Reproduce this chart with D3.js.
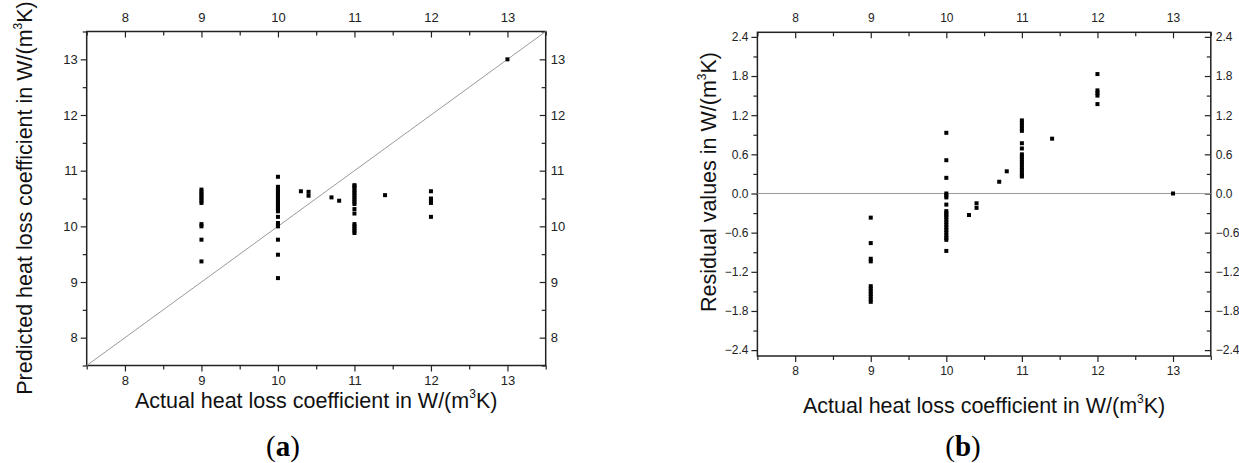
<!DOCTYPE html>
<html>
<head>
<meta charset="utf-8">
<script src="https://cdn.jsdelivr.net/npm/d3@7"></script>
<style>
  html, body { margin: 0; padding: 0; background: #fff; }
  svg { display: block; font-family: "Liberation Sans", Arial, sans-serif; }
</style>
</head>
<body>
<div id="canvas"></div>
<script>
// values
const actualHeatLoss = [
  9, 9, 9, 9, 9, 9, 9, 9, 9, 9, 9,
  10, 10, 10, 10, 10, 10, 10, 10, 10, 10, 10, 10, 10, 10, 10, 10, 10, 10, 10, 10, 10,
  10.3, 10.4, 10.4, 10.7, 10.8,
  11, 11, 11, 11, 11, 11, 11, 11, 11, 11, 11, 11, 11, 11, 11, 11, 11,
  11.4,
  12, 12, 12, 12, 12,
  13
];
const predictedHeatLoss = [
  9.37, 9.76, 10.00, 10.04, 10.42, 10.46, 10.50, 10.54, 10.58, 10.62, 10.66,
  9.07, 9.49, 9.76, 10.00, 10.03, 10.06, 10.17, 10.27, 10.30, 10.33, 10.36, 10.40, 10.44, 10.48, 10.52, 10.56, 10.60, 10.64, 10.68, 10.71, 10.89,
  10.63, 10.55, 10.62, 10.52, 10.46,
  9.88, 9.92, 9.96, 10.00, 10.04, 10.23, 10.31, 10.40, 10.44, 10.48, 10.52, 10.56, 10.60, 10.64, 10.68, 10.72, 10.74,
  10.56,
  10.17, 10.42, 10.46, 10.50, 10.63,
  13.00
];
const residualValues = [
  -0.37, -0.76, -1.00, -1.04, -1.42, -1.46, -1.50, -1.54, -1.58, -1.62, -1.66,
  0.93, 0.51, 0.24, 0.00, -0.03, -0.06, -0.17, -0.27, -0.30, -0.33, -0.36, -0.40, -0.44, -0.48, -0.52, -0.56, -0.60, -0.64, -0.68, -0.71, -0.88,
  -0.33, -0.15, -0.22, 0.18, 0.34,
  1.12, 1.08, 1.04, 1.00, 0.96, 0.77, 0.69, 0.60, 0.56, 0.52, 0.48, 0.44, 0.40, 0.36, 0.32, 0.28, 0.26,
  0.84,
  1.83, 1.58, 1.54, 1.50, 1.37,
  0.00
];

const xTicks = [8, 9, 10, 11, 12, 13];
const xMinorTicks = [7.5, 8.5, 9.5, 10.5, 11.5, 12.5, 13.5];
const predTicks = [8, 9, 10, 11, 12, 13];
const predMinorTicks = [7.5, 8.5, 9.5, 10.5, 11.5, 12.5, 13.5];
const resTicks = [-2.4, -1.8, -1.2, -0.6, 0.0, 0.6, 1.2, 1.8, 2.4];
const resMinorTicks = [-2.1, -1.5, -0.9, -0.3, 0.3, 0.9, 1.5, 2.1];

const W = 1239, H = 463;
const svg = d3.select('#canvas').append('svg')
  .attr('width', W).attr('height', H)
  .style('background', '#fff');

function drawPanel(opt) {
  const x = opt.x, y = opt.y;
  const [x0, x1] = x.range();
  const [y0, y1] = y.range();
  const g = svg.append('g');

  // axes: bottom/left ticks outward, top/right ticks inward
  const addAxis = (axis, tr, fs) => {
    const a = g.append('g').attr('transform', tr).call(axis);
    a.select('.domain').remove();
    a.selectAll('line').attr('stroke', '#222').attr('stroke-width', 1.2);
    a.selectAll('text').attr('fill', '#222').style('font-size', fs + 'px')
      .style('font-family', '"Liberation Sans", Arial, sans-serif');
    return a;
  };
  const fmtY = opt.fmtY;
  addAxis(d3.axisBottom(x).tickValues(xTicks).tickSize(6).tickPadding(4).tickFormat(d3.format('d')), `translate(0,${y0})`, opt.fs);
  addAxis(d3.axisBottom(x).tickValues(xMinorTicks).tickSize(4).tickFormat(''), `translate(0,${y0})`, opt.fs);
  addAxis(d3.axisTop(x).tickValues(xTicks).tickSize(-6).tickPadding(10).tickFormat(d3.format('d')), `translate(0,${y1})`, opt.fs);
  addAxis(d3.axisTop(x).tickValues(xMinorTicks).tickSize(-4).tickFormat(''), `translate(0,${y1})`, opt.fs);
  addAxis(d3.axisLeft(y).tickValues(opt.yTicks).tickSize(6).tickPadding(3).tickFormat(fmtY), `translate(${x0},0)`, opt.fs);
  addAxis(d3.axisLeft(y).tickValues(opt.yMinor).tickSize(4).tickFormat(''), `translate(${x0},0)`, opt.fs);
  addAxis(d3.axisRight(y).tickValues(opt.yTicks).tickSize(-6).tickPadding(5).tickFormat(fmtY), `translate(${x1},0)`, opt.fs);
  addAxis(d3.axisRight(y).tickValues(opt.yMinor).tickSize(-4).tickFormat(''), `translate(${x1},0)`, opt.fs);

  // frame
  g.append('rect')
    .attr('x', x0).attr('y', y1)
    .attr('width', x1 - x0).attr('height', y0 - y1)
    .attr('fill', 'none').attr('stroke', '#222').attr('stroke-width', 1.5);

  // reference line
  g.append('line')
    .attr('x1', x(opt.ref[0][0])).attr('y1', y(opt.ref[0][1]))
    .attr('x2', x(opt.ref[1][0])).attr('y2', y(opt.ref[1][1]))
    .attr('stroke', '#9a9a9a').attr('stroke-width', 1);

  // points
  const s = 4;
  g.selectAll('.pt')
    .data(opt.xs.map((d, i) => [d, opt.ys[i]]))
    .join('rect')
    .attr('class', 'pt')
    .attr('x', d => x(d[0]) - s / 2)
    .attr('y', d => y(d[1]) - s / 2)
    .attr('width', s).attr('height', s)
    .attr('fill', '#000');

  // x title
  const xt = g.append('text')
    .attr('x', (x0 + x1) / 2).attr('y', opt.xTitleY)
    .attr('text-anchor', 'middle')
    .attr('dy', '0.35em')
    .style('font-size', '21.5px').attr('fill', '#111');
  supText(xt, 'Actual heat loss coefficient in W/(m', '3', 'K)');

  // y title
  const yt = g.append('text')
    .attr('transform', `translate(${opt.yTitleX},${opt.yTitleY}) rotate(-90)`)
    .attr('text-anchor', 'middle')
    .attr('dy', '0.35em')
    .style('font-size', '21.5px').attr('fill', '#111');
  supText(yt, opt.yTitle, '3', 'K)');

  // panel letter
  const lt = g.append('text')
    .attr('x', opt.letterX).attr('y', 456)
    .attr('text-anchor', 'middle')
    .style('font-family', '"Liberation Serif", "Times New Roman", serif')
    .style('font-size', '29px').attr('fill', '#000');
  lt.append('tspan').text('(');
  lt.append('tspan').attr('font-weight', 'bold').text(opt.letter);
  lt.append('tspan').text(')');
}

function supText(t, a, sup, b) {
  t.append('tspan').text(a);
  t.append('tspan').attr('dy', -10).style('font-size', '12px').text(sup);
  t.append('tspan').attr('dy', 10).text(b);
}

// (a) predicted vs actual
const xA = d3.scaleLinear().domain([7.5, 13.5]).range([86.7, 545.7]);
const yA = d3.scaleLinear().domain([7.5, 13.5]).range([365.5, 31.5]);
drawPanel({
  x: xA, y: yA, xs: actualHeatLoss, ys: predictedHeatLoss,
  yTicks: predTicks, yMinor: predMinorTicks, fmtY: d3.format('d'), fs: 13,
  ref: [[7.5, 7.5], [13.5, 13.5]],
  xTitleY: 400, yTitleX: 24, yTitleY: 198,
  yTitle: 'Predicted heat loss coefficient in W/(m',
  letter: 'a', letterX: 283
});

// (b) residuals
const xB = d3.scaleLinear().domain([7.5, 13.5]).range([757.4, 1210.8]);
const yB = d3.scaleLinear().domain([-2.49, 2.47]).range([356, 32.3]);
drawPanel({
  x: xB, y: yB, xs: actualHeatLoss, ys: residualValues,
  yTicks: resTicks, yMinor: resMinorTicks, fmtY: d3.format('.1f'), fs: 12,
  ref: [[7.5, 0], [13.5, 0]],
  xTitleY: 405, yTitleX: 708, yTitleY: 182,
  yTitle: 'Residual values in W/(m',
  letter: 'b', letterX: 963
});
</script>
</body>
</html>
